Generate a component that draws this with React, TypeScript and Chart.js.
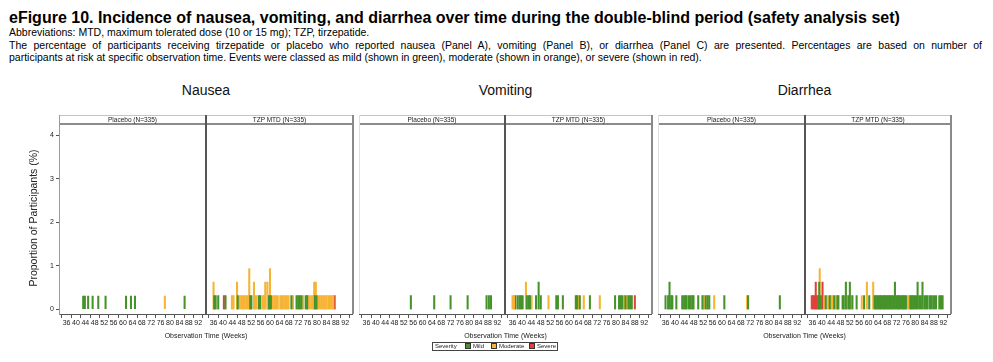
import React, { useEffect, useRef } from "react";
import { Chart, registerables } from "chart.js";
Chart.register(...registerables);

type Pair = [number, number];

// ---------- axis ticks ----------
const xTicks = [36, 40, 44, 48, 52, 56, 60, 64, 68, 72, 76, 80, 84, 88, 92];
const yTicks = [0, 1, 2, 3, 4];
const X_MIN = 32.8;
const X_MAX = 95.3;
const Y_MIN = -0.11;
const Y_MAX = 4.12;

// ---------- Nausea ----------
const nauseaPlaceboMild: Pair[] = [
  [43.1, 0.3], [43.8, 0.3], [45.2, 0.3], [47.1, 0.3], [49.5, 0.3], [52.6, 0.3],
  [61.3, 0.3], [63.4, 0.3], [65.1, 0.3], [86.2, 0.3],
];
const nauseaPlaceboModerate: Pair[] = [[77.8, 0.3]];
const nauseaPlaceboSevere: Pair[] = [];

const nauseaTzpMild: Pair[] = [
  [36.3, 0.3], [36.9, 0.3], [38.0, 0.3], [41.1, 0.3], [46.3, 0.3], [51.6, 0.3], [52.1, 0.3],
  [55.3, 0.3], [55.9, 0.3], [59.6, 0.3], [60.4, 0.3], [69.1, 0.3], [71.3, 0.3], [72.0, 0.3],
  [72.7, 0.3], [73.4, 0.3], [75.2, 0.3], [75.8, 0.3], [79.1, 0.3], [79.8, 0.3],
];
const nauseaTzpModerate: Pair[] = [
  [36.0, 0.6], [43.8, 0.3], [44.5, 0.3], [46.0, 0.6], [47.1, 0.3], [47.8, 0.3], [48.5, 0.3],
  [49.2, 0.3], [49.9, 0.3], [50.6, 0.3], [51.2, 0.9], [53.2, 0.6], [53.7, 0.3], [54.3, 0.3],
  [57.0, 0.3], [57.5, 0.3], [58.0, 0.6], [58.9, 0.6], [59.3, 0.3], [60.0, 0.9], [61.2, 0.3],
  [61.9, 0.3], [62.6, 0.3], [63.3, 0.3], [64.4, 0.3], [65.1, 0.3], [65.8, 0.3], [66.5, 0.3],
  [67.2, 0.3], [67.9, 0.3], [69.8, 0.3], [74.1, 0.3], [76.2, 0.3], [76.9, 0.3], [77.6, 0.3],
  [78.3, 0.3], [78.8, 0.6], [79.5, 0.6], [80.5, 0.3], [81.2, 0.3], [81.9, 0.3], [82.6, 0.3],
  [83.3, 0.3], [84.0, 0.3], [84.8, 0.3], [85.5, 0.3], [86.2, 0.3], [86.9, 0.3],
];
const nauseaTzpSevere: Pair[] = [[40.4, 0.3], [87.5, 0.3]];

// ---------- Vomiting ----------
const vomitingPlaceboMild: Pair[] = [
  [55.0, 0.3], [65.0, 0.3], [72.0, 0.3], [79.3, 0.3], [87.4, 0.3], [88.4, 0.3], [89.3, 0.3],
];
const vomitingPlaceboModerate: Pair[] = [];
const vomitingPlaceboSevere: Pair[] = [];

const vomitingTzpMild: Pair[] = [
  [38.1, 0.3], [38.9, 0.3], [39.6, 0.3], [40.3, 0.3], [42.1, 0.3], [42.9, 0.3], [43.4, 0.3],
  [46.0, 0.3], [47.1, 0.6], [48.0, 0.3], [54.6, 0.3], [55.3, 0.3], [57.4, 0.3], [62.9, 0.3],
  [63.4, 0.3], [64.6, 0.3], [68.9, 0.3], [79.6, 0.3], [81.3, 0.3], [82.0, 0.3], [82.6, 0.3],
  [84.0, 0.3], [85.3, 0.3], [86.0, 0.3], [86.7, 0.3],
];
const vomitingTzpModerate: Pair[] = [
  [36.0, 0.3], [36.6, 0.3], [41.7, 0.6], [44.1, 0.3], [51.3, 0.3], [64.1, 0.3], [66.3, 0.3],
  [73.1, 0.3], [83.4, 0.3], [84.6, 0.3],
];
const vomitingTzpSevere: Pair[] = [[37.1, 0.3], [88.0, 0.3]];

// ---------- Diarrhea ----------
const diarrheaPlaceboMild: Pair[] = [
  [36.0, 0.3], [37.1, 0.3], [37.7, 0.6], [38.4, 0.3], [38.9, 0.3], [40.6, 0.3], [43.1, 0.3],
  [43.9, 0.3], [44.6, 0.3], [45.0, 0.3], [46.0, 0.3], [46.7, 0.3], [47.4, 0.3], [47.9, 0.3],
  [49.9, 0.3], [51.7, 0.3], [53.1, 0.3], [53.9, 0.3], [54.6, 0.3], [61.0, 0.3], [71.1, 0.3],
  [84.6, 0.3],
];
const diarrheaPlaceboModerate: Pair[] = [[52.0, 0.3], [52.4, 0.3], [56.7, 0.3], [70.7, 0.3]];
const diarrheaPlaceboSevere: Pair[] = [];

const diarrheaTzpMild: Pair[] = [
  [38.6, 0.3], [38.9, 0.6], [39.6, 0.3], [41.7, 0.3], [43.4, 0.3], [45.3, 0.3], [46.7, 0.3],
  [47.1, 0.3], [48.9, 0.3], [49.4, 0.3], [50.3, 0.6], [51.4, 0.3], [52.0, 0.6], [53.1, 0.3],
  [54.9, 0.3], [58.1, 0.3], [60.3, 0.3], [62.6, 0.3], [63.1, 0.3], [63.7, 0.3], [64.3, 0.3],
  [64.9, 0.3], [65.4, 0.3], [66.0, 0.3], [66.6, 0.3], [67.1, 0.3], [67.7, 0.3], [68.3, 0.3],
  [68.9, 0.3], [69.4, 0.3], [70.0, 0.3], [70.6, 0.3], [71.3, 0.6], [72.0, 0.3], [72.6, 0.3],
  [73.1, 0.3], [73.7, 0.3], [74.3, 0.3], [74.9, 0.3], [75.4, 0.3], [76.0, 0.3], [77.9, 0.3],
  [78.4, 0.3], [79.0, 0.3], [79.6, 0.3], [80.3, 0.3], [81.0, 0.6], [81.7, 0.3], [82.4, 0.3],
  [83.1, 0.6], [83.9, 0.3], [84.6, 0.3], [85.3, 0.3], [86.3, 0.3], [87.1, 0.3], [88.0, 0.3],
  [88.9, 0.3], [90.3, 0.3], [91.0, 0.3], [91.7, 0.3],
];
const diarrheaTzpModerate: Pair[] = [
  [39.1, 0.9], [41.0, 0.3], [42.7, 0.3], [44.0, 0.3], [44.6, 0.3], [46.0, 0.3], [50.7, 0.3],
  [52.6, 0.3], [57.1, 0.3], [59.3, 0.6], [62.0, 0.6], [76.7, 0.3], [77.3, 0.3],
];
const diarrheaTzpSevere: Pair[] = [
  [35.7, 0.3], [36.3, 0.3], [36.9, 0.3], [37.4, 0.6], [37.9, 0.3], [40.3, 0.6],
];

// ---------- styles ----------
const MILD = "#45932a";
const MODERATE = "#f6b334";
const SEVERE = "#e2403a";
const FONT = "'Liberation Sans', Arial, Helvetica, sans-serif";

type SubProps = {
  left: number;
  width: number;
  yAxisW: number;
  mild: Pair[];
  moderate: Pair[];
  severe: Pair[];
};

const PLOT_TOP = 124;
const PLOT_H = 190;
const X_AXIS_H = 22;

function SubChart({ left, width, yAxisW, mild, moderate, severe }: SubProps) {
  const ref = useRef<HTMLCanvasElement>(null);
  useEffect(() => {
    if (!ref.current) return;
    const mk = (label: string, d: Pair[], color: string) => ({
      label,
      data: d.map(([x, y]) => ({ x, y })),
      backgroundColor: color,
      borderWidth: 0,
      barThickness: 1.4,
      grouped: false,
    });
    const chart = new Chart(ref.current, {
      type: "bar",
      data: {
        datasets: [
          mk("Mild", mild, MILD),
          mk("Moderate", moderate, MODERATE),
          mk("Severe", severe, SEVERE),
        ],
      },
      options: {
        animation: false,
        responsive: false,
        maintainAspectRatio: false,
        devicePixelRatio: 1,
        layout: { padding: 0 },
        plugins: { legend: { display: false }, tooltip: { enabled: false } },
        scales: {
          x: {
            type: "linear",
            min: X_MIN,
            max: X_MAX,
            offset: false,
            afterBuildTicks: (s: any) => {
              s.ticks = xTicks.map((v) => ({ value: v }));
            },
            afterFit: (s: any) => {
              s.height = X_AXIS_H;
            },
            ticks: {
              autoSkip: false,
              maxRotation: 0,
              minRotation: 0,
              padding: 1,
              color: "#222",
              font: { size: 7, family: FONT },
            },
            grid: { drawOnChartArea: false, drawTicks: true, tickLength: 4, color: "#555" },
            border: { display: true, color: "#555", width: 1 },
          },
          y: {
            display: yAxisW > 0,
            min: Y_MIN,
            max: Y_MAX,
            afterBuildTicks: (s: any) => {
              s.ticks = yTicks.map((v) => ({ value: v }));
            },
            afterFit: (s: any) => {
              s.width = yAxisW;
            },
            ticks: { padding: 2, color: "#222", font: { size: 7, family: FONT } },
            grid: { drawOnChartArea: false, drawTicks: true, tickLength: 3, color: "#555" },
            border: { display: true, color: "#9a9a9a", width: 1 },
          },
        },
      } as any,
    });
    return () => chart.destroy();
  }, []);
  return (
    <canvas
      ref={ref}
      width={width + yAxisW}
      height={PLOT_H + X_AXIS_H}
      style={{
        position: "absolute",
        left: left - yAxisW,
        top: PLOT_TOP,
        width: width + yAxisW,
        height: PLOT_H + X_AXIS_H,
      }}
    />
  );
}

type PanelDef = {
  title: string;
  L: number;
  D: number;
  R: number;
  yAxis: boolean;
  placebo: [Pair[], Pair[], Pair[]];
  tzp: [Pair[], Pair[], Pair[]];
};

const panels: PanelDef[] = [
  {
    title: "Nausea", L: 59, D: 206, R: 353, yAxis: true,
    placebo: [nauseaPlaceboMild, nauseaPlaceboModerate, nauseaPlaceboSevere],
    tzp: [nauseaTzpMild, nauseaTzpModerate, nauseaTzpSevere],
  },
  {
    title: "Vomiting", L: 359, D: 505, R: 652, yAxis: false,
    placebo: [vomitingPlaceboMild, vomitingPlaceboModerate, vomitingPlaceboSevere],
    tzp: [vomitingTzpMild, vomitingTzpModerate, vomitingTzpSevere],
  },
  {
    title: "Diarrhea", L: 658, D: 805, R: 951, yAxis: false,
    placebo: [diarrheaPlaceboMild, diarrheaPlaceboModerate, diarrheaPlaceboSevere],
    tzp: [diarrheaTzpMild, diarrheaTzpModerate, diarrheaTzpSevere],
  },
];

const abs = (s: React.CSSProperties): React.CSSProperties => ({ position: "absolute", ...s });

function Panel({ p }: { p: PanelDef }) {
  const headerTop = 115;
  const headerH = 9;
  const frameBottom = PLOT_TOP + PLOT_H;
  const headerText: React.CSSProperties = {
    fontSize: 6.5,
    lineHeight: "8px",
    textAlign: "center",
    color: "#222",
    fontFamily: FONT,
    whiteSpace: "nowrap",
  };
  return (
    <>
      <div style={abs({ left: p.L - 60, width: p.R - p.L + 120, top: 82, textAlign: "center", fontSize: 14, lineHeight: "16px", fontFamily: FONT, color: "#111" })}>
        {p.title}
      </div>
      <SubChart left={p.L} width={p.D - p.L} yAxisW={p.yAxis ? 59 : 0} mild={p.placebo[0]} moderate={p.placebo[1]} severe={p.placebo[2]} />
      <SubChart left={p.D} width={p.R - p.D} yAxisW={0} mild={p.tzp[0]} moderate={p.tzp[1]} severe={p.tzp[2]} />
      {/* header strip */}
      <div style={abs({ left: p.L, width: p.R - p.L, top: headerTop, height: 1, background: "#c4c4c4" })} />
      <div style={abs({ left: p.L, width: p.R - p.L, top: headerTop + headerH - 1, height: 2, background: "#8c8c8c" })} />
      <div style={abs({ left: p.L, width: p.D - p.L, top: headerTop + 1, ...headerText })}>Placebo (N=335)</div>
      <div style={abs({ left: p.D, width: p.R - p.D, top: headerTop + 1, ...headerText })}>TZP MTD (N=335)</div>
      {/* frame */}
      <div style={abs({ left: p.L, top: headerTop, width: 1, height: frameBottom - headerTop, background: p.yAxis ? "#9a9a9a" : "#dedede" })} />
      <div style={abs({ left: p.R - 1, top: headerTop, width: 2, height: frameBottom - headerTop, background: "#8a8a8a" })} />
      <div style={abs({ left: p.D - 1, top: headerTop, width: 2, height: frameBottom - headerTop, background: "#555" })} />
      <div style={abs({ left: p.L - 60, width: p.R - p.L + 120, top: 332, textAlign: "center", fontSize: 7, lineHeight: "8px", fontFamily: FONT, color: "#222" })}>
        Observation Time (Weeks)
      </div>
    </>
  );
}

export default function App() {
  const txt: React.CSSProperties = { fontFamily: FONT, color: "#000", whiteSpace: "nowrap" };
  const sw = (c: string): React.CSSProperties => ({
    display: "inline-block",
    width: 4,
    height: 4,
    background: c,
    border: "0.5px solid #333",
    marginRight: 2,
    verticalAlign: "middle",
  });
  return (
    <div style={abs({ left: 0, top: 0, width: 993, height: 362, background: "#fff", overflow: "hidden" })}>
      <div style={abs({ ...txt, left: 9, top: 9, fontSize: 16, lineHeight: "18px", fontWeight: "bold" })}>
        eFigure 10. Incidence of nausea, vomiting, and diarrhea over time during the double-blind period (safety analysis set)
      </div>
      <div style={abs({ ...txt, left: 9, top: 26, fontSize: 10.5, lineHeight: "12px" })}>
        Abbreviations: MTD, maximum tolerated dose (10 or 15 mg); TZP, tirzepatide.
      </div>
      <div style={abs({ ...txt, left: 9, top: 39, width: 973, fontSize: 10.5, lineHeight: "12px", textAlign: "justify", textAlignLast: "justify" } as any)}>
        The percentage of participants receiving tirzepatide or placebo who reported nausea (Panel A), vomiting (Panel B), or diarrhea (Panel C) are presented. Percentages are based on number of
      </div>
      <div style={abs({ ...txt, left: 9, top: 51, fontSize: 10.5, lineHeight: "12px" })}>
        participants at risk at specific observation time. Events were classed as mild (shown in green), moderate (shown in orange), or severe (shown in red).
      </div>

      {panels.map((p) => (
        <Panel key={p.title} p={p} />
      ))}

      <div
        style={abs({
          left: 33 - 70,
          top: 218 - 6,
          width: 140,
          height: 12,
          lineHeight: "12px",
          textAlign: "center",
          fontSize: 10.5,
          fontFamily: FONT,
          color: "#222",
          transform: "rotate(-90deg)",
          whiteSpace: "nowrap",
        })}
      >
        Proportion of Participants (%)
      </div>

      <div
        style={abs({
          left: 432,
          top: 342,
          width: 124,
          height: 7,
          border: "1px solid #444",
          fontSize: 6,
          lineHeight: "7px",
          fontFamily: FONT,
          color: "#222",
          whiteSpace: "nowrap",
        })}
      >
        <span style={{ position: "absolute", left: 2 }}>Severity</span>
        <span style={{ position: "absolute", left: 32 }}>
          <span style={sw(MILD)} />Mild
        </span>
        <span style={{ position: "absolute", left: 58 }}>
          <span style={sw(MODERATE)} />Moderate
        </span>
        <span style={{ position: "absolute", left: 96 }}>
          <span style={sw(SEVERE)} />Severe
        </span>
      </div>
    </div>
  );
}
